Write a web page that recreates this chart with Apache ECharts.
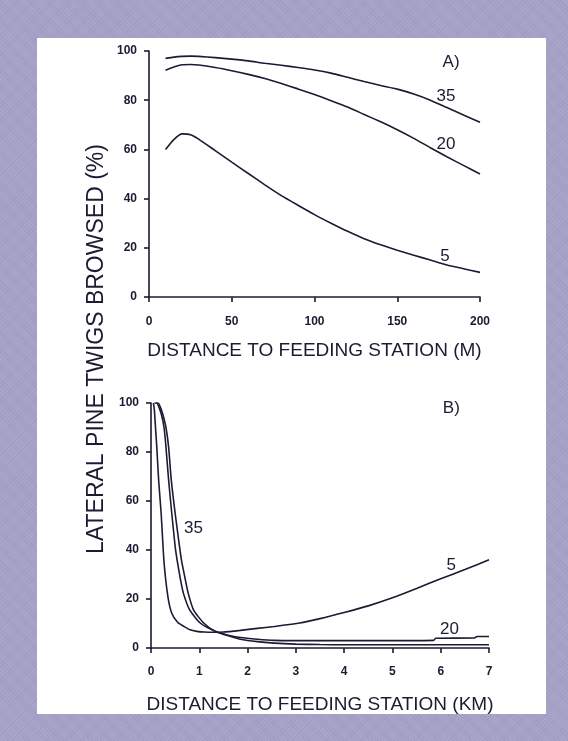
<!DOCTYPE html>
<html>
<head>
<meta charset="utf-8">
<script src="https://cdn.jsdelivr.net/npm/echarts@6/dist/echarts.min.js"></script>
<style>
  html, body { margin: 0; padding: 0; width: 568px; height: 741px; overflow: hidden; }
  body {
    background-color: #a3a0c6;
    background-image:
      repeating-linear-gradient(45deg, rgba(255,255,255,0.08) 0px, rgba(255,255,255,0.08) 1px, rgba(0,0,0,0) 1px, rgba(0,0,0,0) 2px),
      repeating-linear-gradient(-45deg, rgba(60,50,110,0.06) 0px, rgba(60,50,110,0.06) 1px, rgba(0,0,0,0) 1px, rgba(0,0,0,0) 3px);
  }
  #panel { position: absolute; left: 37px; top: 38px; width: 509px; height: 676px; background: #ffffff; }
  #chart { position: absolute; left: 0; top: 0; width: 568px; height: 741px; }
</style>
</head>
<body>
<div id="panel"></div>
<div id="chart"></div>
<script>
// ---- Panel A: distance in metres ----
const aX   = [10, 15, 20, 25, 30, 40, 50, 60, 70, 80, 90, 100, 110, 120, 130, 140, 150, 160, 170, 180, 190, 200];
const a35  = [97, 97.5, 97.8, 97.9, 97.8, 97.3, 96.7, 96, 95, 94.2, 93.3, 92.3, 91, 89.3, 87.6, 86, 84.5, 82.5, 80, 77, 74, 71];
const a20  = [92.2, 93.5, 94.4, 94.5, 94.3, 93.3, 92, 90.5, 88.8, 86.8, 84.6, 82.3, 79.8, 77.2, 74.2, 71.2, 68, 64.5, 60.7, 57, 53.5, 50];
const a5   = [60, 64, 66.3, 66, 64.2, 59.5, 54.8, 50.2, 45.6, 41.2, 37.3, 33.5, 30, 26.7, 23.7, 21.2, 19, 17, 15, 13, 11.5, 10];

// ---- Panel B: distance in kilometres ----
const b5x  = [0.05, 0.07, 0.1, 0.12, 0.16, 0.21, 0.27, 0.35, 0.43, 0.55, 0.68, 0.81, 0.95, 1.1, 1.3, 1.5, 1.85, 2.2, 2.55, 3.08, 3.5, 4.0, 4.5, 5.0, 5.5, 6.0, 6.5, 7.0];
const b5y  = [100, 97, 88, 82, 68, 55, 35, 21, 14.2, 10.5, 8.8, 7.4, 6.8, 6.5, 6.4, 6.5, 7.2, 8, 8.8, 10.2, 12, 14.5, 17.2, 20.5, 24.3, 28.3, 32, 36];
const b20x = [0.07, 0.12, 0.17, 0.22, 0.27, 0.31, 0.365, 0.43, 0.5, 0.54, 0.61, 0.67, 0.8, 1.02, 1.33, 1.6, 1.85, 2.2, 2.55, 3, 4, 5, 5.85, 5.9, 6.7, 6.75, 7];
const b20y = [100, 100, 98, 95, 90, 82, 68.5, 55, 41.5, 36, 28, 22.4, 15.6, 10.2, 6.8, 5.2, 4.3, 3.6, 3.1, 3, 3, 3, 3.1, 4, 4.1, 4.7, 4.7];
const b35x = [0.1, 0.15, 0.2, 0.25, 0.31, 0.365, 0.42, 0.5, 0.59, 0.63, 0.71, 0.77, 0.88, 1.09, 1.33, 1.6, 1.85, 2.2, 2.55, 3, 3.5, 4, 5, 6, 7];
const b35y = [100, 100, 98, 95, 90, 82, 68.5, 55, 41.5, 36, 28, 22.4, 15.6, 10.2, 6.8, 5, 3.6, 2.6, 2, 1.6, 1.4, 1.3, 1.3, 1.3, 1.3];

// ---- Axis ticks / texts ----
const yTicks = { min: 0, max: 100, interval: 20 };
const aTicks = { min: 0, max: 200, interval: 50 };
const bTicks = { min: 0, max: 7, interval: 1 };
const xNameA = 'DISTANCE TO FEEDING STATION (M)';
const xNameB = 'DISTANCE TO FEEDING STATION (KM)';
const yName  = 'LATERAL PINE TWIGS BROWSED (%)';
const curveNames = ['35', '20', '5'];

const INK = '#1b1b33';
const FONT = '"Liberation Sans", Arial, sans-serif';

function zip(xs, ys) { return xs.map((x, i) => [x, ys[i]]); }

function axisBase(t) {
  return {
    type: 'value', min: t.min, max: t.max, interval: t.interval,
    axisLine: { show: true, lineStyle: { color: INK, width: 1.6 } },
    axisTick: { show: true, length: 5, lineStyle: { color: INK, width: 1.6 } },
    splitLine: { show: false },
    axisLabel: { color: INK, fontFamily: FONT, fontSize: 12, fontWeight: 'bold' }
  };
}

function lbl(text, coord, size) {
  return {
    coord: coord, symbol: 'circle', symbolSize: 0, value: text,
    label: { show: true, position: 'inside', formatter: text, color: INK, fontFamily: FONT, fontSize: size || 17 }
  };
}

function lineSeries(name, data, xi, yi, marks) {
  return {
    name: name, type: 'line', data: data, xAxisIndex: xi, yAxisIndex: yi,
    showSymbol: false, smooth: 0.2, lineStyle: { color: INK, width: 1.6 },
    silent: true,
    markPoint: marks ? { silent: true, data: marks, itemStyle: { color: 'transparent' } } : undefined
  };
}

const chart = echarts.init(document.getElementById('chart'), null, { renderer: 'canvas' });

const xA = axisBase(aTicks);
Object.assign(xA, { gridIndex: 0, name: xNameA, nameLocation: 'middle', nameGap: 44,
  nameTextStyle: { color: INK, fontFamily: FONT, fontSize: 19 } });
xA.axisLabel = Object.assign({}, xA.axisLabel, { margin: 19 });
const xB = axisBase(bTicks);
Object.assign(xB, { gridIndex: 1, name: xNameB, nameLocation: 'middle', nameGap: 47,
  nameTextStyle: { color: INK, fontFamily: FONT, fontSize: 19 } });
xB.axisLabel = Object.assign({}, xB.axisLabel, { margin: 18 });
const yA = axisBase(yTicks); yA.gridIndex = 0; yA.axisLabel = Object.assign({}, yA.axisLabel, { margin: 12 });
const yB = axisBase(yTicks); yB.gridIndex = 1; yB.axisLabel = Object.assign({}, yB.axisLabel, { margin: 12 });

chart.setOption({
  animation: false,
  backgroundColor: 'transparent',
  grid: [
    { left: 149, top: 51, width: 331, height: 246 },
    { left: 151, top: 403, width: 338, height: 245 }
  ],
  xAxis: [xA, xB],
  yAxis: [yA, yB],
  graphic: [
    { type: 'text', x: 97, y: 349, rotation: Math.PI / 2,
      style: { text: yName, fill: INK, font: '23px ' + FONT, align: 'center', verticalAlign: 'middle',
               textAlign: 'center', textVerticalAlign: 'middle' } }
  ],
  series: [
    lineSeries(curveNames[0], zip(aX, a35), 0, 0, [lbl('A)', [182.5, 95.4]), lbl('35', [179.4, 81.6])]),
    lineSeries(curveNames[1], zip(aX, a20), 0, 0, [lbl('20', [179.4, 62.1])]),
    lineSeries(curveNames[2], zip(aX, a5), 0, 0, [lbl('5', [178.8, 16.7])]),
    lineSeries(curveNames[0], zip(b35x, b35y), 1, 1, [lbl('B)', [6.22, 97.8]), lbl('35', [0.88, 49])]),
    lineSeries(curveNames[1], zip(b20x, b20y), 1, 1, [lbl('20', [6.18, 7.5])]),
    lineSeries(curveNames[2], zip(b5x, b5y), 1, 1, [lbl('5', [6.22, 33.9])])
  ]
});
</script>
</body>
</html>
